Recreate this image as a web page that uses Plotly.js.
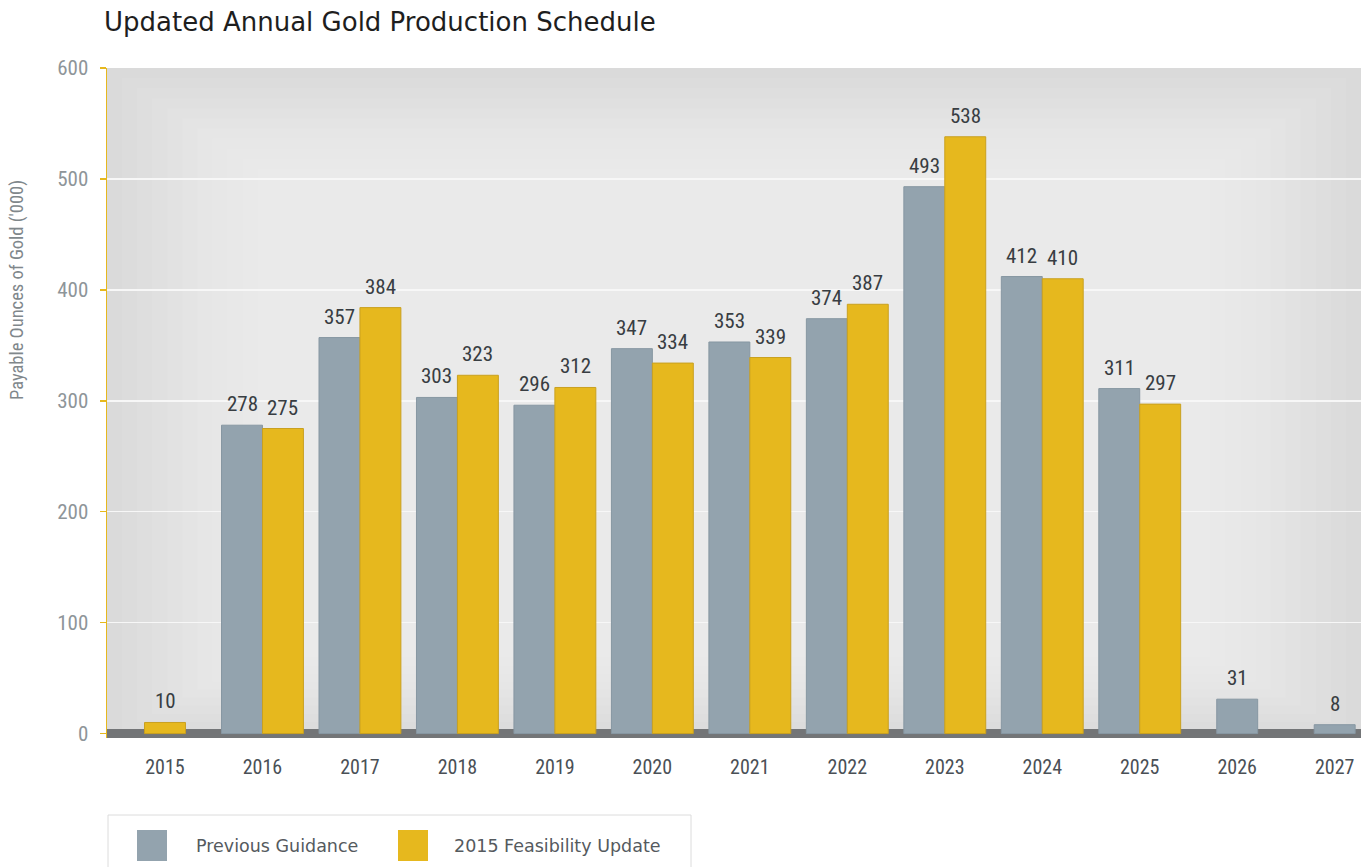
<!DOCTYPE html>
<html>
<head>
<meta charset="utf-8">
<script src="https://cdn.plot.ly/plotly-3.0.1.min.js"></script>
<style>html,body{margin:0;padding:0;background:#fff;}#chart{width:1361px;height:867px;}</style>
</head>
<body>
<div id="chart"></div>
<script>
var years = ["2015","2016","2017","2018","2019","2020","2021","2022","2023","2024","2025","2026","2027"];
var previousGuidance = [null,278,357,303,296,347,353,374,493,412,311,31,8];
var feasibilityUpdate = [10,275,384,323,312,334,339,387,538,410,297,null,null];
var seriesNames = ["Previous Guidance","2015 Feasibility Update"];
var yTicks = [0,100,200,300,400,500,600];

var GRAY = "#93a3ae", GOLD = "#e6b81e";
var W = 0.42;
var condensed = "'Roboto Condensed','Liberation Sans Narrow','DejaVu Sans Condensed',sans-serif";
var geo = "'DejaVu Sans','Open Sans',sans-serif";

var prevOffset = years.map(function(_, i){ return feasibilityUpdate[i] == null ? -W/2 : -W; });
var updOffset = years.map(function(_, i){ return previousGuidance[i] == null ? -W/2 : 0; });

var traces = [
  {type:"bar", name:seriesNames[0], x:years, y:previousGuidance, width:W, offset:prevOffset,
   marker:{color:GRAY, line:{color:"#8797a2", width:1}}, hoverinfo:"x+y+name"},
  {type:"bar", name:seriesNames[1], x:years, y:feasibilityUpdate, width:W, offset:updOffset,
   marker:{color:GOLD, line:{color:"#c9a020", width:1}}, hoverinfo:"x+y+name"}
];

var annotations = [];
function addLabels(vals, offs) {
  vals.forEach(function(v, i){
    if (v == null) return;
    annotations.push({xref:"x", yref:"y", x:i + offs[i] + W/2, y:v, xanchor:"center", yanchor:"bottom",
      yshift:7, showarrow:false, text:String(v), font:{family:condensed, size:21, color:"#383d42"}});
  });
}
addLabels(previousGuidance, prevOffset);
addLabels(feasibilityUpdate, updOffset);

// background vignette (decorative)
var shapes = [];
for (var k = 1; k <= 10; k++) {
  shapes.push({type:"rect", xref:"paper", yref:"paper", layer:"below",
    x0:0.012*k, x1:1-0.012*k, y0:0.012*k, y1:1-0.015*k,
    line:{width:0}, fillcolor:"rgba(255,255,255,0.075)"});
}
// custom legend
var PW = 1254, PH = 670, L = 107, B = 738;
function px(x){ return (x - L)/PW; }
function py(y){ return (B - y)/PH; }
shapes.push({type:"rect", xref:"paper", yref:"paper", x0:px(108), x1:px(691), y0:py(815), y1:py(880),
  line:{color:"#dcdcdc", width:1}, fillcolor:"#ffffff"});
shapes.push({type:"rect", xref:"paper", yref:"paper", x0:px(137), x1:px(167), y0:py(830), y1:py(861),
  line:{width:0}, fillcolor:GRAY});
shapes.push({type:"rect", xref:"paper", yref:"paper", x0:px(398), x1:px(428), y0:py(830), y1:py(861),
  line:{width:0}, fillcolor:GOLD});

annotations.push(
  {xref:"paper", yref:"paper", x:px(194), y:py(846), xanchor:"left", yanchor:"middle", showarrow:false,
   text:seriesNames[0], font:{family:geo, size:17.5, color:"#555a5e"}},
  {xref:"paper", yref:"paper", x:px(452), y:py(846), xanchor:"left", yanchor:"middle", showarrow:false,
   text:seriesNames[1], font:{family:geo, size:17.5, color:"#555a5e"}},
  {xref:"paper", yref:"paper", x:px(17), y:py(290), xanchor:"center", yanchor:"middle", showarrow:false,
   textangle:-90, text:"Payable Ounces of Gold ('000)", font:{family:condensed, size:18.5, color:"#80878b"}}
);

var layout = {
  width:1361, height:867,
  margin:{l:107, r:0, t:68, b:129, pad:0},
  paper_bgcolor:"#ffffff", plot_bgcolor:"#dadada",
  title:{text:"Updated Annual Gold Production Schedule", xref:"container", yref:"container",
    x:104/1361, xanchor:"left", y:1-22/867, yanchor:"middle",
    font:{family:geo, size:26, color:"#1e1e1e"}},
  barmode:"overlay",
  showlegend:false,
  xaxis:{type:"category", range:[-0.595, 12.27], showgrid:false, zeroline:false, showline:false,
    ticks:"", ticklabelstandoff:15, tickfont:{family:condensed, size:20, color:"#4a5056"}, fixedrange:true},
  yaxis:{range:[-4, 600], tickvals:yTicks, ticktext:yTicks.map(String), showgrid:true, gridcolor:"#f7f7f7", gridwidth:1.5,
    zeroline:true, zerolinecolor:"#737577", zerolinewidth:9,
    showline:true, linecolor:GOLD, linewidth:1.5, ticks:"outside", tickcolor:GOLD, ticklen:6, tickwidth:1.5,
    ticklabelstandoff:7, tickfont:{family:condensed, size:21, color:"#8e9599"}, fixedrange:true},
  shapes:shapes,
  annotations:annotations
};

Plotly.newPlot("chart", traces, layout, {displayModeBar:false, staticPlot:true});
</script>
</body>
</html>
